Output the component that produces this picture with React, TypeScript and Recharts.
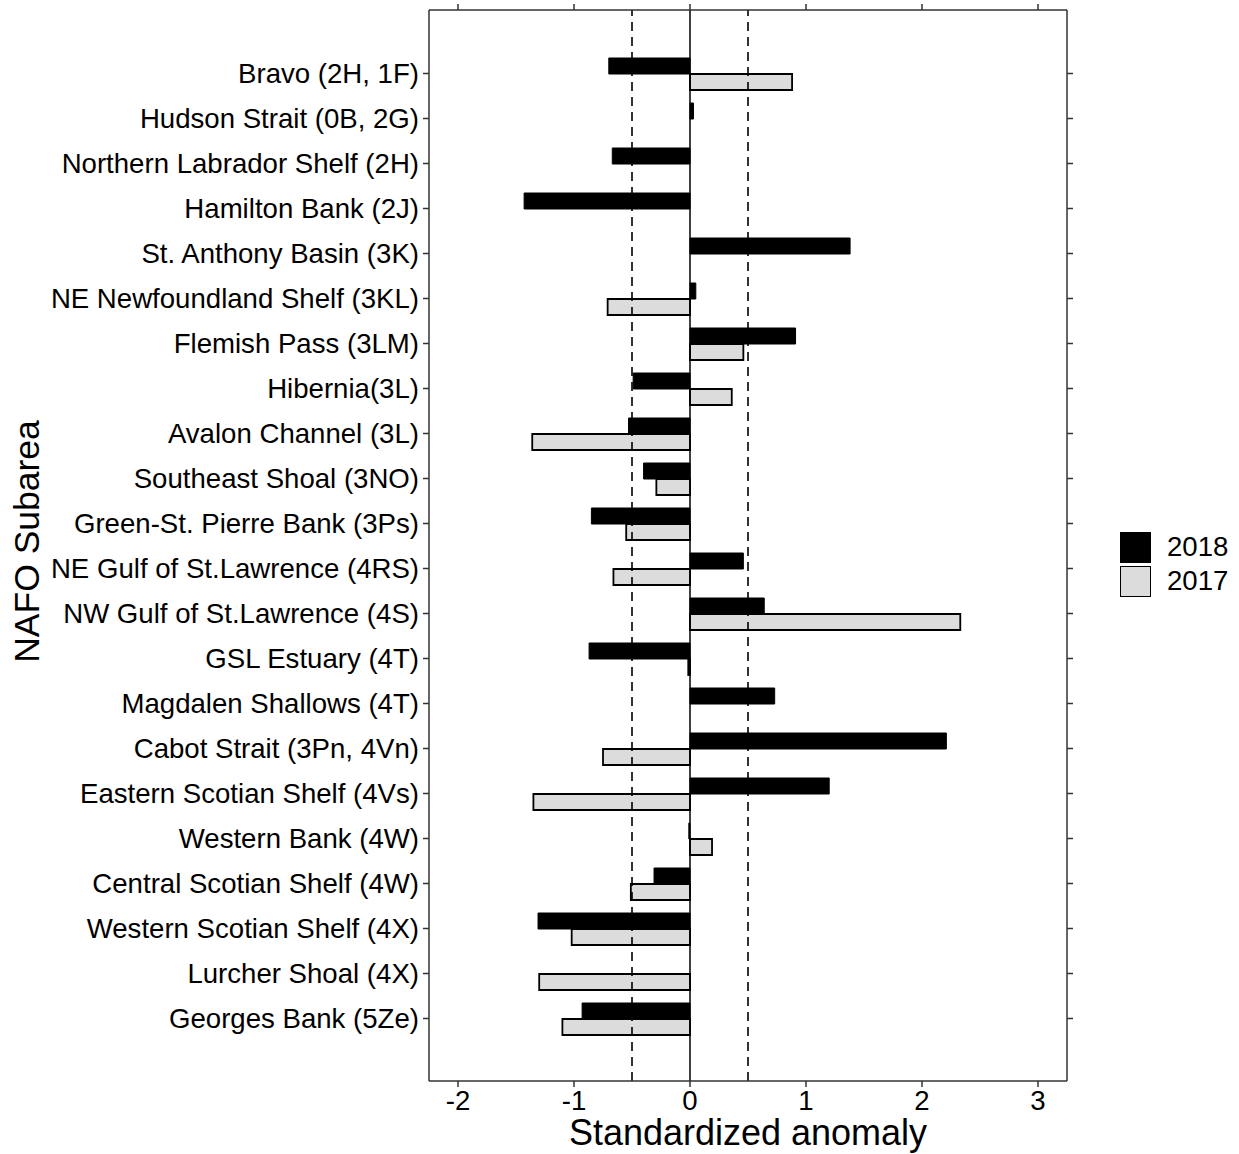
import {
  BarChart,
  Bar,
  XAxis,
  YAxis,
  ReferenceLine,
  Legend,
} from "recharts";

const FONT = "'Liberation Sans', Arial, sans-serif";
const FRAME = "#333333";

const SUBAREAS = [
  "Bravo (2H, 1F)",
  "Hudson Strait (0B, 2G)",
  "Northern Labrador Shelf (2H)",
  "Hamilton Bank (2J)",
  "St. Anthony Basin (3K)",
  "NE Newfoundland Shelf (3KL)",
  "Flemish Pass (3LM)",
  "Hibernia(3L)",
  "Avalon Channel (3L)",
  "Southeast Shoal (3NO)",
  "Green-St. Pierre Bank (3Ps)",
  "NE Gulf of St.Lawrence (4RS)",
  "NW Gulf of St.Lawrence (4S)",
  "GSL Estuary (4T)",
  "Magdalen Shallows (4T)",
  "Cabot Strait (3Pn, 4Vn)",
  "Eastern Scotian Shelf (4Vs)",
  "Western Bank (4W)",
  "Central Scotian Shelf (4W)",
  "Western Scotian Shelf (4X)",
  "Lurcher Shoal (4X)",
  "Georges Bank (5Ze)",
];

const ANOMALY_2018: (number | null)[] = [
  -0.7, 0.03, -0.67, -1.43, 1.38, 0.05, 0.91, -0.49, -0.53, -0.4, -0.85,
  0.46, 0.64, -0.87, 0.73, 2.21, 1.2, -0.01, -0.31, -1.31, null, -0.93,
];

const ANOMALY_2017: (number | null)[] = [
  0.88, null, null, null, null, -0.71, 0.46, 0.36, -1.36, -0.29, -0.55,
  -0.66, 2.33, -0.015, null, -0.75, -1.35, 0.19, -0.51, -1.02, -1.3, -1.1,
];

const X_TICKS = [-2, -1, 0, 1, 2, 3];
const THRESHOLDS = [-0.5, 0.5];
const LEGEND_ORDER = ["2018", "2017"];

const data = SUBAREAS.map((name, i) => ({
  name,
  y2018: ANOMALY_2018[i],
  y2017: ANOMALY_2017[i],
}));

// mirrored axes: tick marks only, no labels
const NoLabel = () => <g />;

function LegendBox({ payload }: any) {
  const items = [...(payload || [])].sort(
    (a: any, b: any) =>
      LEGEND_ORDER.indexOf(String(a.value)) -
      LEGEND_ORDER.indexOf(String(b.value))
  );
  return (
    <div style={{ fontFamily: FONT }}>
      {items.map((entry: any) => (
        <div
          key={entry.value}
          style={{ display: "flex", alignItems: "center", height: 34 }}
        >
          <span
            style={{
              display: "inline-block",
              width: 31,
              height: 31,
              boxSizing: "border-box",
              backgroundColor: entry.color,
              border: "1.5px solid #000",
            }}
          />
          <span style={{ marginLeft: 16, fontSize: 27.6, color: "#000" }}>
            {entry.value}
          </span>
        </div>
      ))}
    </div>
  );
}

export default function App() {
  return (
    <div
      style={{
        position: "absolute",
        left: 0,
        top: 0,
        width: 1239,
        height: 1154,
        background: "#fff",
      }}
    >
      <BarChart
        width={1239}
        height={1154}
        data={data}
        layout="vertical"
        margin={{ top: 9, right: 171, bottom: 0, left: 0 }}
        barSize={16}
        barGap={0}
      >
        <XAxis
          type="number"
          domain={[-2.25, 3.25]}
          ticks={X_TICKS}
          allowDataOverflow
          height={73}
          tickSize={6}
          tickMargin={3}
          stroke={FRAME}
          strokeWidth={1.5}
          tick={{ fontSize: 27.6, fill: "#000", fontFamily: FONT }}
          label={{
            value: "Standardized anomaly",
            position: "insideBottom",
            offset: 9,
            fontSize: 36,
            fill: "#000",
            fontFamily: FONT,
          }}
        />
        <XAxis
          xAxisId="top"
          orientation="top"
          type="number"
          domain={[-2.25, 3.25]}
          ticks={X_TICKS}
          allowDataOverflow
          height={1}
          tickSize={6}
          stroke={FRAME}
          strokeWidth={1.5}
          tick={NoLabel}
        />
        <YAxis
          type="category"
          dataKey="name"
          width={429}
          interval={0}
          tickSize={6}
          tickMargin={4}
          padding={{ top: 41, bottom: 40 }}
          stroke={FRAME}
          strokeWidth={1.5}
          tick={{ fontSize: 27.6, fill: "#000", fontFamily: FONT }}
          label={{
            content: ({ viewBox }: any) => {
              const cy = viewBox.y + viewBox.height / 2 - 4;
              return (
                <text
                  x={39}
                  y={cy}
                  transform={`rotate(-90, 39, ${cy})`}
                  textAnchor="middle"
                  fontSize={35.5}
                  fill="#000"
                  fontFamily={FONT}
                >
                  NAFO Subarea
                </text>
              );
            },
          }}
        />
        <YAxis
          yAxisId="right"
          orientation="right"
          type="category"
          dataKey="name"
          width={1}
          interval={0}
          tickSize={6}
          padding={{ top: 41, bottom: 40 }}
          stroke={FRAME}
          strokeWidth={1.5}
          tick={NoLabel}
        />
        {THRESHOLDS.map((v) => (
          <ReferenceLine
            key={v}
            x={v}
            stroke="#000"
            strokeWidth={1.6}
            strokeDasharray="9 6"
          />
        ))}
        <ReferenceLine x={0} stroke="#000" strokeWidth={1.5} />
        <Bar
          dataKey="y2018"
          name="2018"
          fill="#000000"
          stroke="#000000"
          strokeWidth={1}
          isAnimationActive={false}
        />
        <Bar
          dataKey="y2017"
          name="2017"
          fill="#dcdcdc"
          stroke="#000000"
          strokeWidth={1.8}
          isAnimationActive={false}
        />
        <Legend
          layout="horizontal"
          align="center"
          verticalAlign="middle"
          content={<LegendBox />}
          wrapperStyle={{
            position: "absolute",
            left: 1120,
            top: 530,
            width: 119,
            height: 70,
          }}
        />
      </BarChart>
    </div>
  );
}
